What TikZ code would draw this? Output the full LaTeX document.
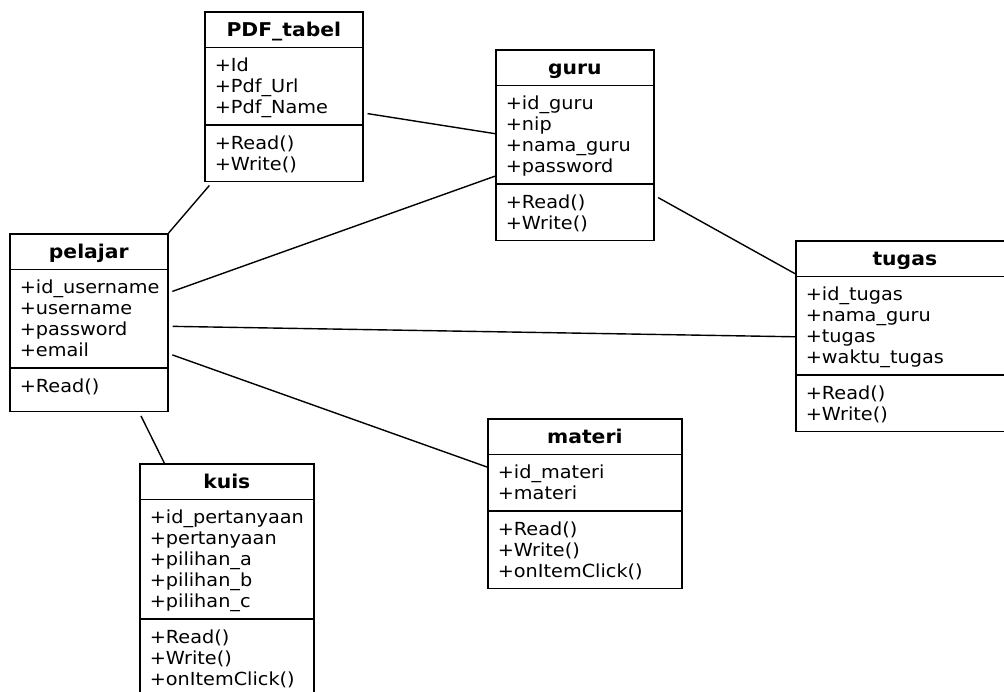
\documentclass[tikz,border=0pt]{standalone}
\usepackage{fontspec}
\setmainfont{DejaVu Sans}[FakeStretch=1.07]
\usetikzlibrary{shapes.multipart,calc}

\tikzset{
  umlclass/.style={rectangle split, rectangle split parts=3, draw, line width=1.6pt,
    rectangle split draw splits, anchor=north west,
    inner xsep=10pt, inner ysep=5.5pt,
    font=\fontsize{18}{21}\selectfont},
  assoc/.style={line width=1.4pt, shorten <=4pt}
}
\newcommand{\upstrut}{\rule{0pt}{18pt}}
\newcommand{\downstrut}{\rule[-5pt]{0pt}{5pt}}
\newcommand{\classname}[1]{\makebox[\linewidth]{\upstrut\downstrut\fontsize{19}{21}\selectfont\textbf{#1}}}

\begin{document}
\begin{tikzpicture}[x=1pt,y=-1pt]
  \useasboundingbox (0,0) rectangle (1004,691);
  \node[umlclass, text width=138pt] (pdf_tabel) at (204,11)
    {\classname{PDF\_tabel}
     \nodepart{two}\upstrut+Id\\+Pdf\_Url\\+Pdf\_Name\downstrut
     \nodepart{three}\upstrut+Read()\\+Write()\downstrut};
  \node[umlclass, text width=138pt] (guru) at (495,49)
    {\classname{guru}
     \nodepart{two}\upstrut+id\_guru\\+nip\\+nama\_guru\\+password\downstrut
     \nodepart{three}\upstrut+Read()\\+Write()\downstrut};
  \node[umlclass, text width=198pt] (tugas) at (795,240)
    {\classname{tugas}
     \nodepart{two}\upstrut+id\_tugas\\+nama\_guru\\+tugas\\+waktu\_tugas\downstrut
     \nodepart{three}\upstrut+Read()\\+Write()\downstrut};
  \node[umlclass, text width=138pt] (pelajar) at (9,233)
    {\classname{pelajar}
     \nodepart{two}\upstrut+id\_username\\+username\\+password\\+email\downstrut
     \nodepart{three}\upstrut+Read()\rule[-13pt]{0pt}{1pt}};
  \node[umlclass, text width=154pt] (kuis) at (139,463)
    {\classname{kuis}
     \nodepart{two}\upstrut+id\_pertanyaan\\+pertanyaan\\+pilihan\_a\\+pilihan\_b\\+pilihan\_c\downstrut
     \nodepart{three}\upstrut+Read()\\+Write()\\+onItemClick()\downstrut};
  \node[umlclass, text width=174pt] (materi) at (487,418)
    {\classname{materi}
     \nodepart{two}\upstrut+id\_materi\\+materi\downstrut
     \nodepart{three}\upstrut+Read()\\+Write()\\+onItemClick()\downstrut};

  % associations
  \draw[assoc] ($(pdf_tabel.south west)!0.05!(pdf_tabel.south east)$) -- (pelajar.north east);
  \draw[assoc] ($(pdf_tabel.north east)!0.595!(pdf_tabel.south east)$) -- ($(guru.north west)!0.44!(guru.south west)$);
  \draw[assoc] ($(pelajar.north east)!0.333!(pelajar.south east)$) -- ($(guru.north west)!0.661!(guru.south west)$);
  \draw[assoc] ($(pelajar.north east)!0.52!(pelajar.south east)$) -- ($(tugas.north west)!0.503!(tugas.south west)$);
  \draw[assoc] ($(pelajar.north east)!0.672!(pelajar.south east)$) -- ($(materi.north west)!0.286!(materi.south west)$);
  \draw[assoc] ($(pelajar.south west)!0.816!(pelajar.south east)$) -- ($(kuis.north west)!0.144!(kuis.north east)$);
  \draw[assoc] ($(guru.north east)!0.762!(guru.south east)$) -- ($(tugas.north west)!0.175!(tugas.south west)$);
\end{tikzpicture}
\end{document}
